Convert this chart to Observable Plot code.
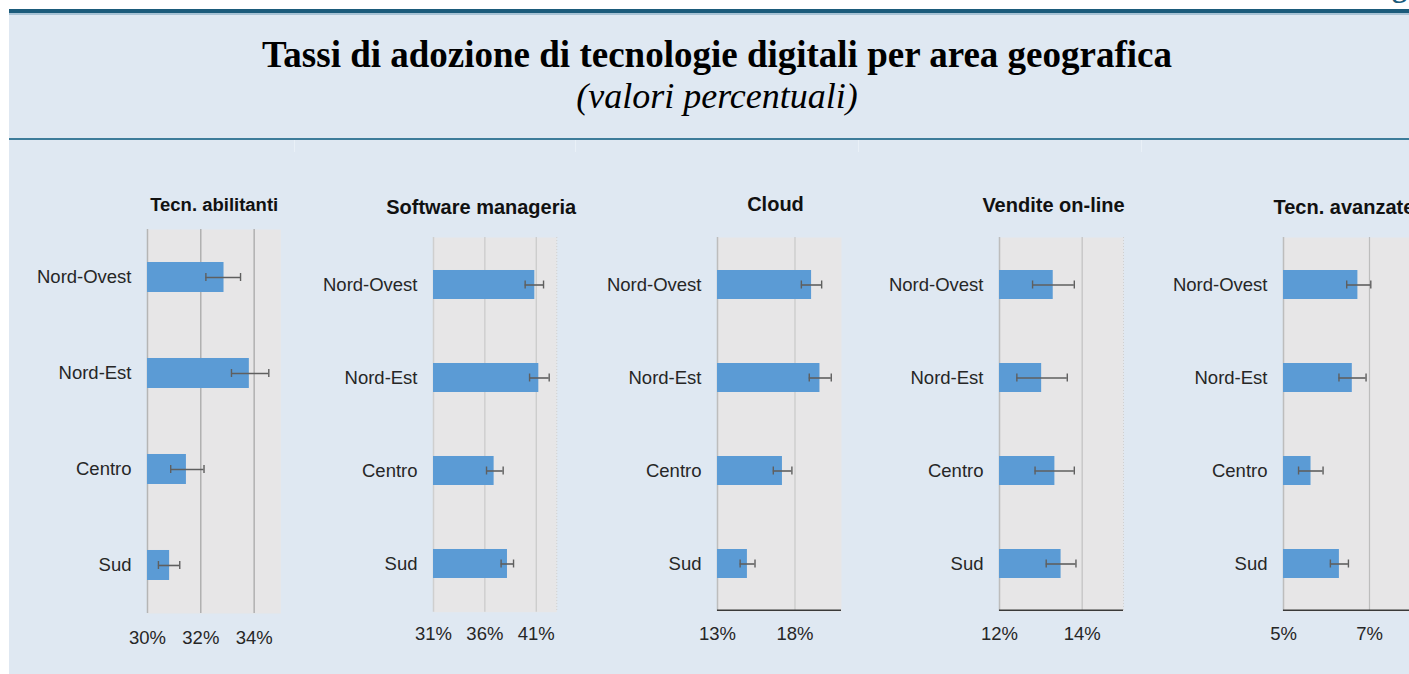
<!DOCTYPE html>
<html>
<head>
<meta charset="utf-8">
<script src="https://cdn.jsdelivr.net/npm/d3@7"></script>
<script src="https://cdn.jsdelivr.net/npm/@observablehq/plot@0.6"></script>
<style>
  html, body { margin: 0; padding: 0; background: #ffffff; }
  #page { position: relative; width: 1409px; height: 674px; overflow: hidden; background: #ffffff; }
  #bg { position: absolute; left: 9px; top: 13px; right: 0; bottom: 0; background: #dfe8f2; }
  #header { position: absolute; left: 0; top: 0; }
  .panel { position: absolute; }
  .panel svg { max-width: none !important; }
</style>
</head>
<body>
<div id="page">
  <div id="bg"></div>
  <svg id="header" width="1409" height="160">
    <text x="1392" y="-3" font-family="Liberation Serif, serif" font-weight="bold" font-size="30" fill="#1b5b7b">g</text>
    <rect x="9" y="9" width="1400" height="4" fill="#1b5b7b"></rect>
    <rect x="9" y="13" width="1400" height="2" fill="#a7c2d5"></rect>
    <text x="717" y="67" text-anchor="middle" font-family="Liberation Serif, 'Times New Roman', serif" font-weight="bold" font-size="37" fill="#000">Tassi di adozione di tecnologie digitali per area geografica</text>
    <text x="717" y="108" text-anchor="middle" font-family="Liberation Serif, 'Times New Roman', serif" font-style="italic" font-size="36" fill="#000">(valori percentuali)</text>
    <rect x="9" y="138" width="1400" height="2" fill="#3d7c9a"></rect>
    <rect x="294" y="140" width="1" height="12" fill="#e9f0f7"></rect>
    <rect x="575" y="140" width="1" height="12" fill="#e9f0f7"></rect>
    <rect x="858" y="140" width="1" height="12" fill="#e9f0f7"></rect>
    <rect x="1141" y="140" width="1" height="12" fill="#e9f0f7"></rect>
  </svg>
</div>
<script>
// ---- Data ----
const regions = ["Nord-Ovest", "Nord-Est", "Centro", "Sud"];
const panelTitles = ["Tecn. abilitanti", "Software manageria", "Cloud", "Vendite on-line", "Tecn. avanzate"];

const tecnAbilitanti     = [32.87, 33.82, 31.46, 30.83];
const tecnAbilitantiLow  = [32.19, 33.15, 30.87, 30.41];
const tecnAbilitantiHigh = [33.49, 34.55, 32.12, 31.21];

const softwareManageria     = [40.86, 41.25, 36.90, 38.20];
const softwareManageriaLow  = [39.92, 40.35, 36.16, 37.58];
const softwareManageriaHigh = [41.71, 42.26, 37.78, 38.79];

const cloud     = [19.07, 19.61, 17.19, 14.93];
const cloudLow  = [18.41, 18.92, 16.60, 14.46];
const cloudHigh = [19.72, 20.34, 17.80, 15.42];

const venditeOnline     = [13.30, 13.02, 13.34, 13.49];
const venditeOnlineLow  = [12.80, 12.42, 12.86, 13.13];
const venditeOnlineHigh = [13.81, 13.64, 13.81, 13.85];

const tecnAvanzate     = [6.73, 6.60, 5.64, 6.30];
const tecnAvanzateLow  = [6.47, 6.29, 5.35, 6.09];
const tecnAvanzateHigh = [7.03, 6.92, 5.92, 6.51];

const axisTicks   = [[30, 32, 34], [31, 36, 41], [13, 18], [12, 14], [5, 7]];
const axisDomains = [[30, 35], [31, 43], [13, 21], [12, 15], [5, 8]];

const seriesValues = [tecnAbilitanti, softwareManageria, cloud, venditeOnline, tecnAvanzate];
const seriesLow    = [tecnAbilitantiLow, softwareManageriaLow, cloudLow, venditeOnlineLow, tecnAvanzateLow];
const seriesHigh   = [tecnAbilitantiHigh, softwareManageriaHigh, cloudHigh, venditeOnlineHigh, tecnAvanzateHigh];

// ---- Layout (frame positions in page pixels) ----
const ML = 130, MR = 40, MT = 50, MB = 40;
const layout = [
  {fx: 146.7, fy: 229, fw: 133.3, fh: 384, pi: 0.6875, grid: "#a3a3a3", axisLine: "#b5b5b5", bottom: false, dotted: false, tp: 17, tdx: 0, tdy: -24, tfs: 18.5, ta: "middle", fa: "top"},
  {fx: 432.7, fy: 237, fw: 123.3, fh: 374.7, pi: 0.69, grid: "#c9c9c9", axisLine: "#cfcfcf", bottom: false, dotted: true, tp: 15, tdx: -14, tdy: -30, tfs: 20, ta: "middle", fa: "top"},
  {fx: 716.7, fy: 237, fw: 124, fh: 374, pi: 0.69, grid: "#c9c9c9", axisLine: "#bdbdbd", bottom: true, dotted: false, tp: 15.5, tdx: -4, tdy: -33, tfs: 20, ta: "middle", fa: "top"},
  {fx: 999.3, fy: 237, fw: 124, fh: 374, pi: 0.69, grid: "#c0c0c0", axisLine: "#bdbdbd", bottom: true, dotted: true, tp: 15.5, tdx: -8, tdy: -32, tfs: 20, ta: "middle", fa: "top"},
  {fx: 1283.3, fy: 237, fw: 129, fh: 374, pi: 0.69, grid: "#bdbdbd", axisLine: "#bdbdbd", bottom: true, dotted: false, tp: 15, tdx: -10, tdy: -30, tfs: 20, ta: "start", fa: "top-left"}
];

const page = document.getElementById("page");

layout.forEach((L, i) => {
  const data = regions.map((r, k) => ({region: r, value: seriesValues[i][k], lo: seriesLow[i][k], hi: seriesHigh[i][k]}));
  const [d0, d1] = axisDomains[i];
  const ticks = axisTicks[i];
  const bw = L.fh / regions.length * (1 - L.pi);
  const capInset = (bw - 8) / 2;
  const marks = [
    Plot.frame({fill: "#e7e6e7", stroke: null}),
    Plot.ruleX(ticks.slice(1), {stroke: L.grid, strokeWidth: 1.2}),
    Plot.ruleX([d0], {stroke: L.axisLine, strokeWidth: 1.5})
  ];
  if (L.dotted) marks.push(Plot.ruleX([d1], {stroke: "#cfcfcf", strokeWidth: 1, strokeDasharray: "1,2"}));
  marks.push(
    Plot.barX(data, {y: "region", x1: () => d0, x2: "value", fill: "#5b9bd5"}),
    Plot.ruleY(data, {y: "region", x1: "lo", x2: "hi", stroke: "#5f5f5f", strokeWidth: 1.6}),
    Plot.tickX(data, {y: "region", x: "lo", stroke: "#5f5f5f", strokeWidth: 1.4, insetTop: capInset, insetBottom: capInset}),
    Plot.tickX(data, {y: "region", x: "hi", stroke: "#5f5f5f", strokeWidth: 1.4, insetTop: capInset, insetBottom: capInset})
  );
  if (L.bottom) marks.push(Plot.rect([d0], {x1: () => d0, x2: () => d1, fill: "#3a3a3a", insetTop: L.fh - 1.5}));
  marks.push(
    Plot.axisY({tickSize: 0, tickPadding: 16, fontSize: 18.5, fill: "#262626", label: null}),
    Plot.axisX(ticks, {tickSize: 0, tickPadding: L.tp, tickFormat: d => d + "%", fontSize: 18.5, fill: "#262626", label: null}),
    Plot.text([panelTitles[i]], {text: d => d, frameAnchor: L.fa, lineAnchor: "middle", textAnchor: L.ta, dx: L.tdx, dy: L.tdy, fontWeight: "bold", fontSize: L.tfs, fill: "#111111"})
  );
  const svg = Plot.plot({
    width: ML + L.fw + MR,
    height: MT + L.fh + MB,
    marginLeft: ML, marginRight: MR, marginTop: MT, marginBottom: MB,
    style: {background: "transparent", overflow: "visible", fontFamily: "'Liberation Sans', Arial, sans-serif", fontSize: "18.5px", color: "#262626"},
    x: {domain: [d0, d1], axis: null},
    y: {domain: regions, paddingInner: L.pi, paddingOuter: L.pi / 2, axis: null},
    marks
  });
  const div = document.createElement("div");
  div.className = "panel";
  div.style.left = (L.fx - ML) + "px";
  div.style.top = (L.fy - MT) + "px";
  div.appendChild(svg);
  page.appendChild(div);
});
</script>
</body>
</html>
